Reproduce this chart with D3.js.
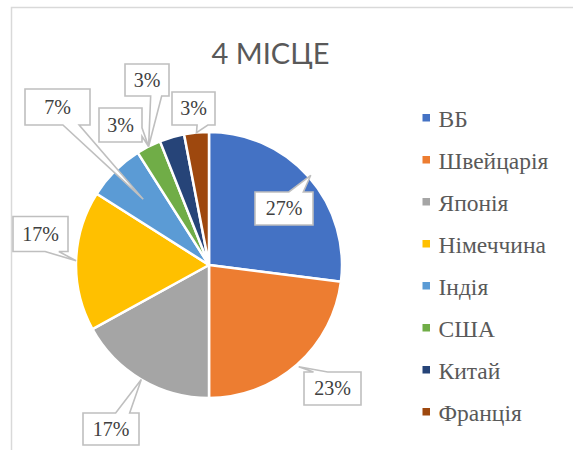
<!DOCTYPE html>
<html><head><meta charset="utf-8">
<script src="https://cdn.jsdelivr.net/npm/d3@7"></script>
<style>html,body{margin:0;padding:0;background:#fff;}svg{display:block;}</style>
</head><body>
<script>
// ---- data ----
const categories = ["ВБ", "Швейцарія", "Японія", "Німеччина", "Індія", "США", "Китай", "Франція"];
const values = [27, 23, 17, 17, 7, 3, 3, 3];
const colors = ["#4472C4", "#ED7D31", "#A5A5A5", "#FFC000", "#5B9BD5", "#70AD47", "#264478", "#9E480E"];
const title = "4 МІСЦЕ";

// ---- layout (positions / sizes of callouts, relative to pie centre) ----
const calloutLayout = [
  {dx: 75,    dy: -56.5, w: 58, h: 33, tipR: 1.02},
  {dx: 123.5, dy: 123.5, w: 57, h: 33, tipR: 1.02},
  {dx: -98,   dy: 164,   w: 56, h: 32, tipR: 1.0},
  {dx: -168.5,dy: -31,   w: 55, h: 35, tipR: 1.0},
  {dx: -151.5,dy: -158,  w: 65, h: 36, tipR: 0.7},
  {dx: -88.5, dy: -140,  w: 43, h: 34, tipR: 1.0},
  {dx: -62,   dy: -185,  w: 44, h: 32, tipR: 1.0, tipFrom: 5},
  {dx: -15.5, dy: -156.5,w: 43, h: 33, tipR: 1.0}
];

const SERIF = '"Liberation Serif"';
const W = 573, H = 450;
const cx = 209, cy = 265, R = 133;

const svg = d3.select("body").append("svg").attr("width", W).attr("height", H);
svg.append("rect").attr("width", W).attr("height", H).attr("fill", "#fff");
svg.append("rect").attr("x", 11.5).attr("y", 7.5).attr("width", 620).attr("height", 520)
  .attr("fill", "none").attr("stroke", "#d9d9d9").attr("stroke-width", 1.5);

svg.append("text").attr("x", 270.5).attr("y", 64).attr("text-anchor", "middle")
  .style("font-family", '"Lato"').attr("font-size", 29)
  .attr("fill", "#595959").text(title);

const total = d3.sum(values);
const pie = d3.pie().sort(null).value(d => d)(values);
const arc = d3.arc().innerRadius(0).outerRadius(R);
const color = d3.scaleOrdinal().domain(categories).range(colors);
const fmt = d3.format(".0%");

const g = svg.append("g").attr("transform", `translate(${cx},${cy})`);
g.selectAll("path.slice").data(pie).join("path").attr("class", "slice")
  .attr("d", arc).attr("fill", (d, i) => color(categories[i]))
  .attr("stroke", "#fff").attr("stroke-width", 2.5).attr("stroke-linejoin", "round");

function calloutPath(L, tx, ty) {
  const x0 = L.dx - L.w / 2, y0 = L.dy - L.h / 2, w = L.w, h = L.h;
  const dxPos = tx - L.dx, dyPos = ty - L.dy;
  const dq = dxPos * h / w;
  const dz = Math.abs(dyPos) - Math.abs(dq);
  const xg1 = dxPos > 0 ? 7 : 2, xg2 = dxPos > 0 ? 10 : 5;
  const yg1 = dyPos > 0 ? 7 : 2, yg2 = dyPos > 0 ? 10 : 5;
  const x1 = x0 + w * xg1 / 12, x2 = x0 + w * xg2 / 12;
  const y1 = y0 + h * yg1 / 12, y2 = y0 + h * yg2 / 12;
  const p = [];
  p.push([x0, y0]);
  if (dz > 0 && dyPos < 0) { p.push([x1, y0], [tx, ty], [x2, y0]); }
  p.push([x0 + w, y0]);
  if (dz <= 0 && dxPos > 0) { p.push([x0 + w, y1], [tx, ty], [x0 + w, y2]); }
  p.push([x0 + w, y0 + h]);
  if (dz > 0 && dyPos > 0) { p.push([x2, y0 + h], [tx, ty], [x1, y0 + h]); }
  p.push([x0, y0 + h]);
  if (dz <= 0 && dxPos < 0) { p.push([x0, y2], [tx, ty], [x0, y1]); }
  return "M" + p.map(q => q.join(",")).join("L") + "Z";
}

const labels = g.selectAll("g.callout").data(pie).join("g").attr("class", "callout");
labels.each(function (d, i) {
  const L = calloutLayout[i];
  const src = pie[L.tipFrom !== undefined ? L.tipFrom : i];
  const a = (src.startAngle + src.endAngle) / 2;
  const tx = Math.sin(a) * R * L.tipR, ty = -Math.cos(a) * R * L.tipR;
  const sel = d3.select(this);
  sel.append("path").attr("d", calloutPath(L, tx, ty))
    .attr("fill", "#fff").attr("stroke", "#bfbfbf").attr("stroke-width", 1.6)
    .attr("stroke-linejoin", "miter");
  sel.append("text").attr("x", L.dx).attr("y", L.dy).attr("dy", "0.34em")
    .attr("text-anchor", "middle").style("font-family", SERIF)
    .attr("font-size", 20).attr("fill", "#404040")
    .text(fmt(d.data / total));
});

const legendY = d3.scalePoint().domain(categories).range([127, 127 + 42 * 7]);
const leg = svg.append("g").selectAll("g").data(categories).join("g")
  .attr("transform", d => `translate(0,${legendY(d)})`);
leg.append("rect").attr("x", 422.5).attr("y", -13).attr("width", 7.5).attr("height", 7.5)
  .attr("fill", d => color(d));
leg.append("text").attr("x", 438.5).attr("y", 0).style("font-family", SERIF)
  .attr("font-size", 23.5).attr("fill", "#595959").text(d => d);
</script>
</body></html>
